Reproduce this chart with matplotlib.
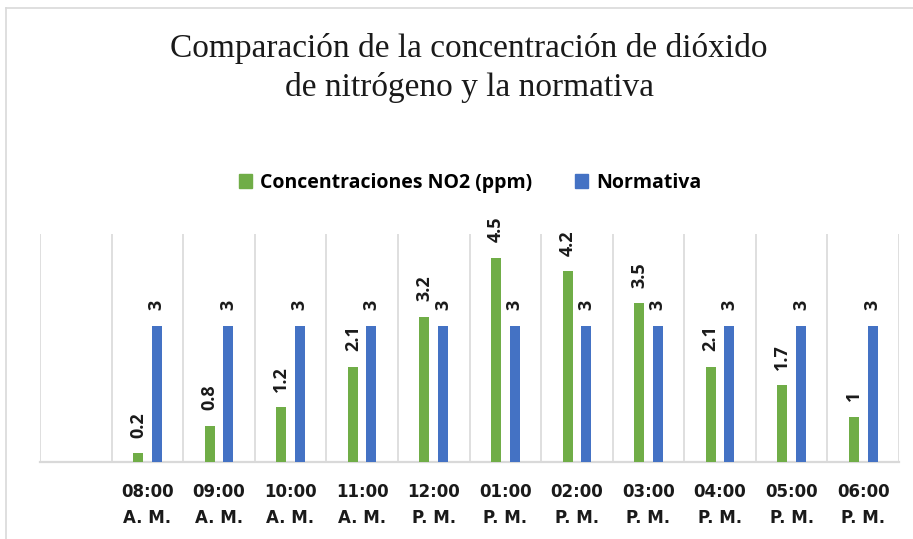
import matplotlib
matplotlib.use("Agg")
import matplotlib.pyplot as plt
import numpy as np
from matplotlib.patches import Patch
from matplotlib.lines import Line2D

categories = ["08:00\nA. M.", "09:00\nA. M.", "10:00\nA. M.", "11:00\nA. M.",
              "12:00\nP. M.", "01:00\nP. M.", "02:00\nP. M.", "03:00\nP. M.",
              "04:00\nP. M.", "05:00\nP. M.", "06:00\nP. M."]
no2 = [0.2, 0.8, 1.2, 2.1, 3.2, 4.5, 4.2, 3.5, 2.1, 1.7, 1]
normativa = [3, 3, 3, 3, 3, 3, 3, 3, 3, 3, 3]

GREEN = "#70AD47"
BLUE = "#4472C4"
GRID = "#D9D9D9"

fig = plt.figure(figsize=(9.13, 5.39), dpi=100)
ax = fig.add_axes([40/913, 1-462/539, (899-40)/913, (462-234)/539])

x = np.arange(len(categories))
w = 0.14
off = 0.13
ax.bar(x - off, no2, width=w, color=GREEN, zorder=3)
ax.bar(x + off, normativa, width=w, color=BLUE, zorder=3)

ax.set_xlim(-1.5, len(categories) - 0.5)
ax.set_ylim(0, 5.02)

for b in np.arange(-1.5, len(categories), 1.0):
    ax.axvline(b, color=GRID, lw=1.2, zorder=1)

for s in ["top", "left", "right"]:
    ax.spines[s].set_visible(False)
ax.spines["bottom"].set_color(GRID)
ax.spines["bottom"].set_linewidth(1.6)
ax.set_yticks([])
ax.set_xticks(x)
ax.set_xticklabels(categories, fontfamily="DejaVu Sans", fontweight="bold",
                   fontsize=12, linespacing=1.6, color="#1a1a1a")
ax.tick_params(axis="x", length=0, pad=15)

lab_kw = dict(rotation=90, ha="center", va="bottom", fontfamily="Open Sans",
              fontweight="bold", fontsize=13, textcoords="offset points",
              annotation_clip=False, color="#1a1a1a")
for xi, v in zip(x, no2):
    ax.annotate(f"{v:g}", (xi - off, v), xytext=(0, 11), **lab_kw)
for xi, v in zip(x, normativa):
    ax.annotate(f"{v:g}", (xi + off, v), xytext=(0, 11), **lab_kw)

fig.text(469/913, 1 - 68/539,
         "Comparación de la concentración de dióxido\nde nitrógeno y la normativa",
         ha="center", va="center", fontfamily="Liberation Serif", fontsize=24,
         linespacing=1.3, color="#1a1a1a")

handles = [Patch(color=GREEN), Patch(color=BLUE)]
fig.legend(handles, ["Concentraciones NO2 (ppm)", "Normativa"],
           loc="center", bbox_to_anchor=(470/913, 1 - 183/539), ncol=2,
           frameon=False, prop=dict(family="Open Sans", weight="bold", size=14),
           handlelength=0.7, handleheight=0.7, handletextpad=0.4,
           columnspacing=2.2)

# chart border (top and left edges visible)
fig.add_artist(Line2D([6/913, 6/913], [0, 1 - 8/539], transform=fig.transFigure,
                      color=GRID, lw=1.2))
fig.add_artist(Line2D([6/913, 1], [1 - 8/539, 1 - 8/539], transform=fig.transFigure,
                      color=GRID, lw=1.2))

fig.savefig("out.png", dpi=100, facecolor="white")
